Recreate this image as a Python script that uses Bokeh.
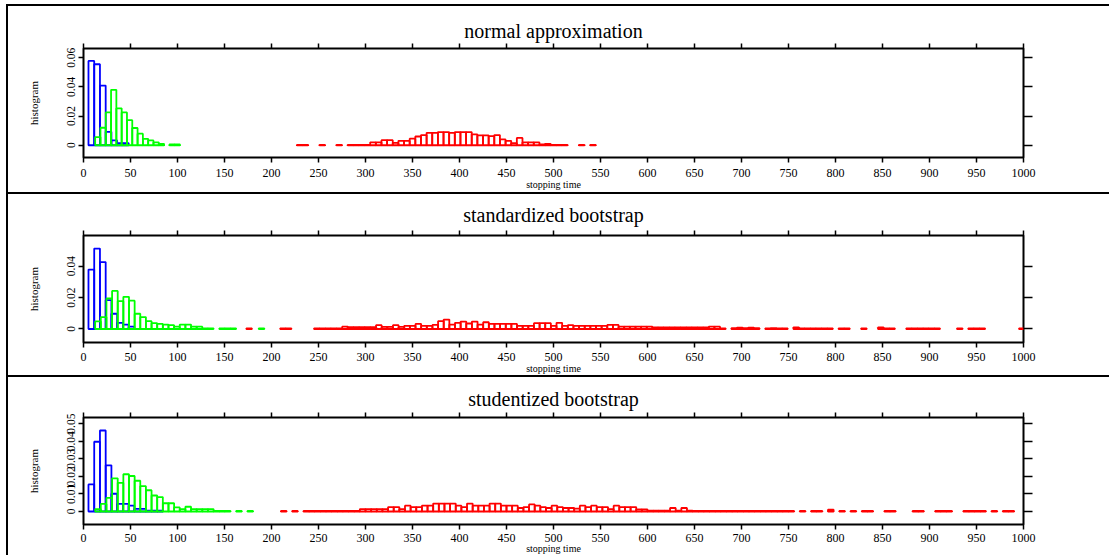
import numpy as np
from bokeh.plotting import figure
from bokeh.layouts import column
from bokeh.models import Range1d, LinearAxis, FixedTicker, ColumnDataSource
from bokeh.embed import file_html
from bokeh.resources import INLINE

# ---------------- data ----------------
TITLES = ["normal approximation", "standardized bootstrap", "studentized bootstrap"]
X_TICKS = list(range(0, 1001, 50))
X_LABEL = "stopping time"
Y_LABEL = "histogram"

Y_TICKS_1 = [0, 0.02, 0.04, 0.06]
Y_TICK_LABELS_1 = ["0", "0.02", "0.04", "0.06"]
Y_TICKS_2 = [0, 0.02, 0.04]
Y_TICK_LABELS_2 = ["0", "0.02", "0.04"]
Y_TICKS_3 = [0, 0.01, 0.02, 0.03, 0.04, 0.05]
Y_TICK_LABELS_3 = ["0", "0.01", "0.02", "0.03", "0.04", "0.05"]

# panel 1 : normal approximation  (bin start, bin width, heights)
P1_BLUE_START, P1_BLUE_WIDTH = 5.3, 6.1
P1_BLUE = [0.0578, 0.0555, 0.0409, 0.0092, 0.0033, 0.0015, 0.0015]
P1_GREEN_START, P1_GREEN_WIDTH = 12.4, 5.64
P1_GREEN = [0.0056, 0.012, 0.0225, 0.038, 0.0253, 0.0225, 0.0172, 0.0118, 0.0079,
            0.0044, 0.0033, 0.002, 0.001, 0, 0.0005, 0.0005]
P1_RED_START, P1_RED_WIDTH = 227, 6
P1_RED = [0.0003, 0.0003, 0, 0, 0.0003, 0, 0, 0.0003, 0, 0.0003, 0.0003, 0.0003, 0.0003,
          0.002, 0.002, 0.0035, 0.0035, 0.0016, 0.003, 0.003, 0.0045, 0.006, 0.007, 0.0085,
          0.0085, 0.009, 0.009, 0.0085, 0.009, 0.009, 0.009, 0.0075, 0.0067, 0.0067, 0.0063,
          0.007, 0.004, 0.003, 0.0015, 0.005, 0.002, 0.002, 0.002, 0.0005, 0.001, 0.0003,
          0.0003, 0.0003, 0, 0, 0.0003, 0, 0.0003]

# panel 2 : standardized bootstrap
P2_BLUE_START, P2_BLUE_WIDTH = 5.3, 6.1
P2_BLUE = [0.0378, 0.0512, 0.0426, 0.0184, 0.0097, 0.0039, 0.0028, 0.0015]
P2_GREEN_START, P2_GREEN_WIDTH = 12.4, 6.0
P2_GREEN = [0.0048, 0.0076, 0.0194, 0.0242, 0.0177, 0.0205, 0.018, 0.0097, 0.0076, 0.005,
            0.0037, 0.0032, 0.0028, 0.0024, 0.0015, 0.0028, 0.0028, 0.0015, 0.0015, 0.0003,
            0.0003, 0, 0.0003, 0.0003, 0.0003, 0, 0, 0, 0, 0.0003]
P2_RED_START, P2_RED_WIDTH = 173.2, 6.0
P2_RED = [0.0003, 0, 0, 0, 0, 0, 0.0003, 0.0003, 0, 0, 0, 0,
          0.0003, 0.0003, 0.0003, 0.0003, 0.0003, 0.0015, 0.0011, 0.0011, 0.0011, 0.0011, 0.0011, 0.0024,
          0.0013, 0.0013, 0.0024, 0.0013, 0.002, 0.002, 0.0032, 0.002, 0.002, 0.0026, 0.005, 0.006,
          0.0028, 0.0039, 0.0047, 0.0035, 0.0047, 0.0028, 0.0043, 0.0032, 0.0032, 0.0032, 0.0032, 0.0032,
          0.002, 0.002, 0.002, 0.0037, 0.0037, 0.0037, 0.002, 0.0039, 0.002, 0.0024, 0.002, 0.002,
          0.002, 0.002, 0.002, 0.002, 0.0026, 0.0026, 0.0015, 0.0015, 0.0015, 0.0015, 0.0015, 0.0015,
          0.001, 0.001, 0.001, 0.001, 0.001, 0.001, 0.001, 0.001, 0.001, 0.001, 0.0015, 0.0015,
          0.0003, 0, 0.0005, 0.0008, 0.0005, 0.0008, 0.0005, 0, 0.0003, 0.0005, 0.0003, 0.0003,
          0, 0.001, 0.0003, 0.0003, 0.0003, 0.0003, 0.0003, 0.0003, 0, 0.0003, 0.0003, 0,
          0, 0.0003, 0, 0, 0.001, 0.0003, 0.0003, 0, 0, 0.0003, 0.0003, 0.0003,
          0.0003, 0.0003, 0.0003, 0, 0, 0, 0.0003, 0, 0.0003, 0.0003, 0.0003, 0,
          0, 0, 0, 0, 0, 0.0003]

# panel 3 : studentized bootstrap
P3_BLUE_START, P3_BLUE_WIDTH = 5.3, 6.1
P3_BLUE = [0.0154, 0.0397, 0.0461, 0.0263, 0.0101, 0.0043, 0.0043, 0.0033, 0.0015, 0.0015,
           0.0005, 0.0005, 0.0005]
P3_GREEN_START, P3_GREEN_WIDTH = 12.4, 6.0
P3_GREEN = [0.0014, 0.0043, 0.0078, 0.0189, 0.0163, 0.0212, 0.0202, 0.0175, 0.0144, 0.0121,
            0.0091, 0.0082, 0.0047, 0.0047, 0.0023, 0.0014, 0.0027, 0.0014, 0.0014, 0.0014,
            0.0014, 0.0003, 0.0003, 0.0003, 0, 0.0003, 0, 0.0003]
P3_RED_START, P3_RED_WIDTH = 210, 6.0
P3_RED = [0.0003, 0, 0.0003, 0, 0.0003, 0.0003, 0.0003, 0.0003, 0.0003, 0.0003, 0.0003, 0.0003,
          0.0003, 0.0003, 0.0014, 0.0014, 0.0014, 0.0014, 0.0014, 0.0025, 0.0025, 0.0014, 0.0033, 0.0025,
          0.0025, 0.0033, 0.0033, 0.0045, 0.0045, 0.0045, 0.0045, 0.0033, 0.0025, 0.0045, 0.0033, 0.0033,
          0.0033, 0.0045, 0.0045, 0.0033, 0.0033, 0.0033, 0.002, 0.0025, 0.004, 0.0033, 0.0025, 0.002,
          0.0033, 0.0025, 0.002, 0.002, 0.0016, 0.0033, 0.0025, 0.0033, 0.0025, 0.0025, 0.0014, 0.0033,
          0.0025, 0.0025, 0.0025, 0.0012, 0.0012, 0.0005, 0.0005, 0.0005, 0.0005, 0.002, 0.0005, 0.002,
          0.0005, 0.0003, 0.0003, 0.0003, 0.0003, 0.0003, 0.0003, 0.0003, 0.0003, 0.0003, 0.0003, 0.0003,
          0.0003, 0.0003, 0.0003, 0.0003, 0.0003, 0.0003, 0.0003, 0, 0.0003, 0, 0.0003, 0.0003,
          0, 0.001, 0, 0.0003, 0, 0.0003, 0, 0.0003, 0.0003, 0, 0, 0.0003,
          0.0003, 0, 0, 0, 0.0003, 0.0003, 0, 0, 0.0003, 0.0003, 0.0003, 0,
          0, 0.0003, 0.0003, 0.0003, 0.0003, 0, 0.0003, 0, 0.0003, 0.0003, 0]

BLUE, GREEN, RED = "#0000ff", "#00ff00", "#ff0000"
FONT = "Liberation Serif"


def add_hist(p, start, width, heights, color):
    h = np.asarray(heights, dtype=float)
    idx = np.nonzero(h > 0)[0]
    left = start + width * idx
    src = ColumnDataSource(dict(left=left, right=left + width, top=h[idx],
                                bottom=np.zeros(len(idx))))
    p.quad(left="left", right="right", top="top", bottom="bottom", source=src,
           fill_color=None, line_color=color, line_width=1.8)


def style_axis(ax, ticks, show_labels, tick_out, overrides=None, standoff=6, size="12px"):
    ax.ticker = FixedTicker(ticks=ticks)
    ax.axis_line_color = None
    ax.major_tick_line_color = "black"
    ax.major_tick_line_width = 1.5
    ax.major_tick_out = tick_out
    ax.major_tick_in = 0
    ax.minor_tick_line_color = None
    ax.major_label_text_font = FONT
    if show_labels:
        ax.major_label_text_font_size = size
        ax.major_label_text_color = "black"
        ax.major_label_standoff = standoff
        if overrides:
            ax.major_label_overrides = overrides
    else:
        ax.major_label_text_font_size = "1px"
        ax.major_label_text_color = None
        ax.major_label_standoff = 0


def make_panel(title, height, y_start, y_end, yticks, yticklabels, min_top, min_bottom,
               title_standoff, x_standoff, xlabel_standoff, series):
    p = figure(width=1103, height=height, x_range=Range1d(0, 1000),
               y_range=Range1d(y_start, y_end), output_backend="svg",
               toolbar_location=None, min_border_left=75, min_border_right=88,
               min_border_top=min_top, min_border_bottom=min_bottom,
               background_fill_color="white", border_fill_color="white",
               styles={"border-top": "2px solid black", "border-left": "2px solid black"})
    p.outline_line_color = "black"
    p.outline_line_width = 2
    p.xgrid.visible = False
    p.ygrid.visible = False

    p.title.text = title
    p.title.align = "center"
    p.title.text_font = FONT
    p.title.text_font_size = "20px"
    p.title.text_font_style = "normal"
    p.title.text_color = "black"
    p.title.standoff = title_standoff

    style_axis(p.xaxis[0], X_TICKS, True, 5, standoff=x_standoff)
    p.xaxis[0].axis_label = X_LABEL
    p.xaxis[0].axis_label_text_font = FONT
    p.xaxis[0].axis_label_text_font_size = "10px"
    p.xaxis[0].axis_label_text_font_style = "normal"
    p.xaxis[0].axis_label_text_color = "black"
    p.xaxis[0].axis_label_standoff = xlabel_standoff

    style_axis(p.yaxis[0], yticks, True, 5, dict(zip(yticks, yticklabels)), standoff=3,
               size="11.5px")
    p.yaxis[0].major_label_orientation = "vertical"
    p.yaxis[0].axis_label = Y_LABEL
    p.yaxis[0].axis_label_text_font = FONT
    p.yaxis[0].axis_label_text_font_size = "11px"
    p.yaxis[0].axis_label_text_font_style = "normal"
    p.yaxis[0].axis_label_text_color = "black"
    p.yaxis[0].axis_label_standoff = 25

    top_ax = LinearAxis()
    style_axis(top_ax, X_TICKS, False, 5)
    p.add_layout(top_ax, "above")
    right_ax = LinearAxis()
    style_axis(right_ax, yticks, False, 9)
    p.add_layout(right_ax, "right")

    for start, width, heights, color in series:
        add_hist(p, start, width, heights, color)
    return p


p1 = make_panel(TITLES[0], 188, -0.0084, 0.0663, Y_TICKS_1, Y_TICK_LABELS_1, 42, 37, 3, 6, -1,
                [(P1_BLUE_START, P1_BLUE_WIDTH, P1_BLUE, BLUE),
                 (P1_GREEN_START, P1_GREEN_WIDTH, P1_GREEN, GREEN),
                 (P1_RED_START, P1_RED_WIDTH, P1_RED, RED)])
p2 = make_panel(TITLES[1], 183, -0.0086, 0.0595, Y_TICKS_2, Y_TICK_LABELS_2, 41, 35, 10, 5, -1,
                [(P2_BLUE_START, P2_BLUE_WIDTH, P2_BLUE, BLUE),
                 (P2_GREEN_START, P2_GREEN_WIDTH, P2_GREEN, GREEN),
                 (P2_RED_START, P2_RED_WIDTH, P2_RED, RED)])
p3 = make_panel(TITLES[2], 180, -0.0074, 0.0535, Y_TICKS_3, Y_TICK_LABELS_3, 40, 33, 5, 4, -2,
                [(P3_BLUE_START, P3_BLUE_WIDTH, P3_BLUE, BLUE),
                 (P3_GREEN_START, P3_GREEN_WIDTH, P3_GREEN, GREEN),
                 (P3_RED_START, P3_RED_WIDTH, P3_RED, RED)])

layout = column(p1, p2, p3, spacing=0, margin=(4, 0, 0, 6))

open("out.html", "w").write(file_html(layout, INLINE))
